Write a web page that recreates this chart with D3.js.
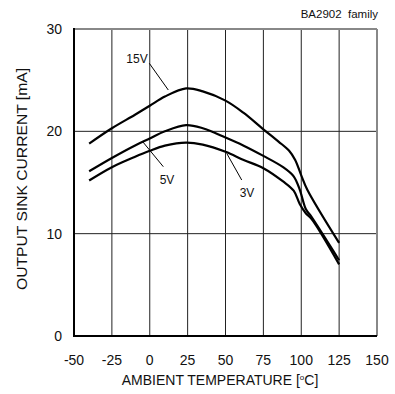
<!DOCTYPE html>
<html><head><meta charset="utf-8">
<script src="https://cdn.jsdelivr.net/npm/d3@7"></script>
<style>body{margin:0;background:#fff}svg{display:block}text{font-family:"Liberation Sans",Arial,sans-serif;fill:#111}</style>
</head><body><svg id="c" width="395" height="394"></svg>
<script>
const xTicks = [-50,-25,0,25,50,75,100,125,150];
const yTicks = [0,10,20,30];
const temp15 = [-40,-25,-10,0,10,24,35,50,62,75,85,92,96,100,104,125];
const val15  = [18.8,20.3,21.6,22.5,23.4,24.2,23.9,23.0,21.8,20.2,19.0,18.1,17.2,15.7,14.3,9.1];
const temp5  = [-40,-25,-10,0,10,24,35,50,62,75,88,95,99,103,106,125];
const val5   = [16.1,17.4,18.6,19.3,20.0,20.6,20.3,19.4,18.6,17.6,16.5,15.6,14.3,12.4,11.8,7.4];
const temp3  = [-40,-25,-10,0,10,24,35,50,62,75,88,95,99,103,107,125];
const val3   = [15.2,16.5,17.5,18.1,18.6,18.9,18.7,18.0,17.2,16.4,15.1,14.2,12.9,12.0,11.4,7.0];
const seriesLabels = ["15V","5V","3V"];

const svg = d3.select("#c");
const x = d3.scaleLinear().domain([-50,150]).range([74,377]);
const y = d3.scaleLinear().domain([0,30]).range([336,29]);

svg.append("g").selectAll("line").data(xTicks.slice(1,-1)).join("line")
  .attr("x1",d=>x(d)).attr("x2",d=>x(d)).attr("y1",y(0)).attr("y2",y(30))
  .attr("stroke","#222").attr("stroke-width",1);
svg.append("g").selectAll("line").data(yTicks.slice(1,-1)).join("line")
  .attr("x1",x(-50)).attr("x2",x(150)).attr("y1",d=>y(d)).attr("y2",d=>y(d))
  .attr("stroke","#222").attr("stroke-width",1);
svg.append("line").attr("x1",x(-50)).attr("x2",x(150)).attr("y1",y(30)).attr("y2",y(30)).attr("stroke","#888").attr("stroke-width",2);
svg.append("line").attr("x1",x(150)).attr("x2",x(150)).attr("y1",y(30)).attr("y2",y(0)).attr("stroke","#888").attr("stroke-width",2);
svg.append("line").attr("x1",x(-50)).attr("x2",x(-50)).attr("y1",y(30)-1).attr("y2",y(0)+1).attr("stroke","#000").attr("stroke-width",2);
svg.append("line").attr("x1",x(-50)-1).attr("x2",x(150)).attr("y1",y(0)).attr("y2",y(0)).attr("stroke","#000").attr("stroke-width",2);

svg.append("g").selectAll("text").data(xTicks).join("text")
  .attr("x",d=>x(d)).attr("y",365).attr("text-anchor","middle").attr("font-size",14).text(d=>d);
svg.append("g").selectAll("text").data(yTicks).join("text")
  .attr("x",62).attr("y",d=>y(d)+5).attr("text-anchor","end").attr("font-size",14).text(d=>d);

const line = d3.line().x(d=>x(d[0])).y(d=>y(d[1])).curve(d3.curveCatmullRom.alpha(0.5));
[[temp15,val15],[temp5,val5],[temp3,val3]].forEach(([t,v])=>{
  svg.append("path").datum(t.map((d,i)=>[d,v[i]])).attr("d",line)
    .attr("fill","none").attr("stroke","#000").attr("stroke-width",2.2);
});

const lab = [
  {t:seriesLabels[0], tx:137, ty:63, l:[149.3,63.3,168.3,90]},
  {t:seriesLabels[1], tx:167, ty:184, l:[142.7,141.7,163.3,166.7]},
  {t:seriesLabels[2], tx:247, ty:197, l:[226.7,153.3,241.7,180]}
];
lab.forEach(o=>{
  svg.append("text").attr("x",o.tx).attr("y",o.ty).attr("text-anchor","middle").attr("font-size",12).text(o.t);
  svg.append("line").attr("x1",o.l[0]).attr("y1",o.l[1]).attr("x2",o.l[2]).attr("y2",o.l[3]).attr("stroke","#000").attr("stroke-width",1);
});

svg.append("text").attr("x",378).attr("y",17.5).attr("text-anchor","end").attr("font-size",11.5)
  .attr("xml:space","preserve").style("white-space","pre").text("BA2902  family");
const xl = svg.append("text").attr("x",220).attr("y",385).attr("text-anchor","middle").attr("font-size",14);
xl.append("tspan").text("AMBIENT TEMPERATURE [");
xl.append("tspan").attr("font-size",8).attr("dy",-5).text("o");
xl.append("tspan").attr("dy",5).text("C]");
svg.append("text").attr("transform","translate(27,179) rotate(-90)").attr("text-anchor","middle")
  .attr("font-size",14).attr("textLength",222).attr("lengthAdjust","spacingAndGlyphs").text("OUTPUT SINK CURRENT [mA]");
</script></body></html>
